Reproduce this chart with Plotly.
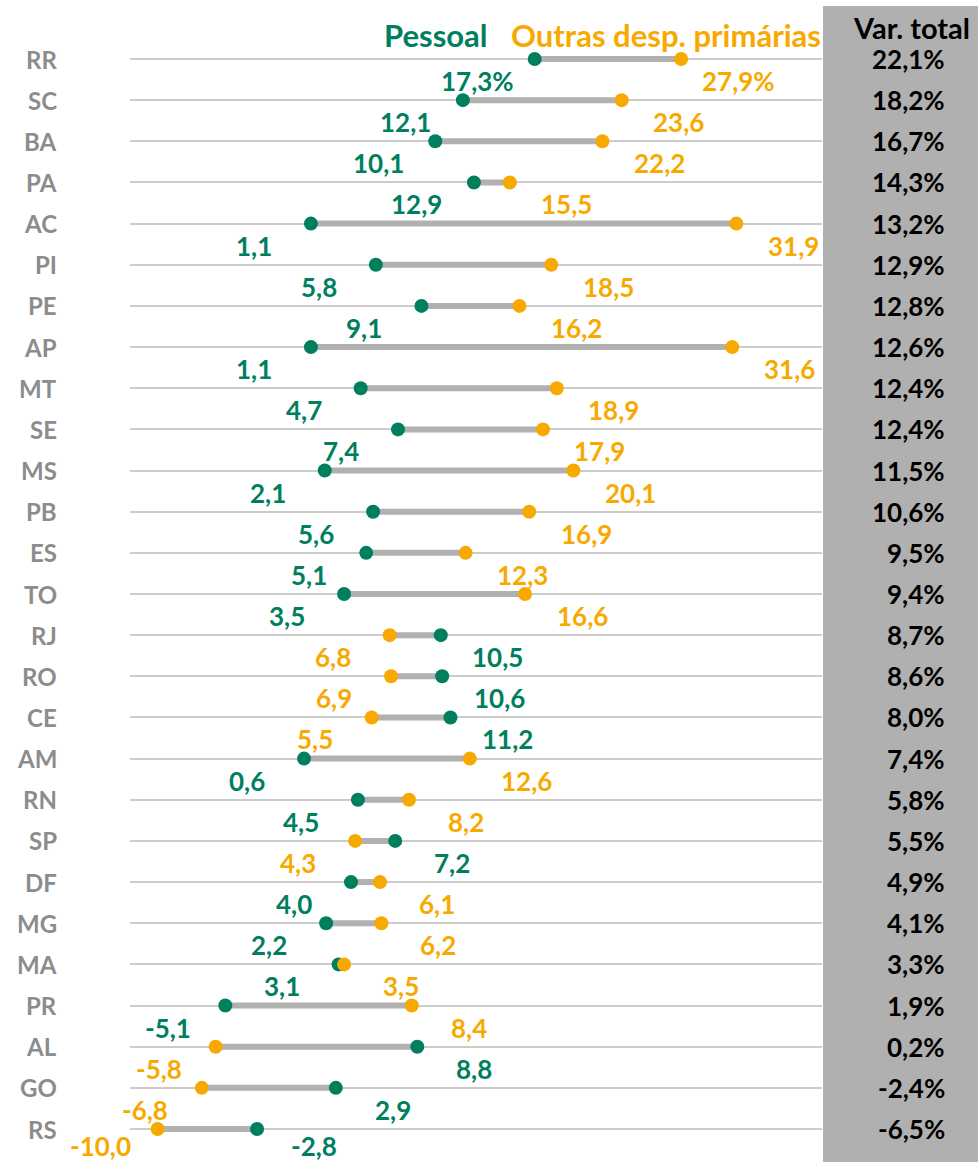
import plotly.graph_objects as go

states = ["RR","SC","BA","PA","AC","PI","PE","AP","MT","SE","MS","PB","ES","TO",
          "RJ","RO","CE","AM","RN","SP","DF","MG","MA","PR","AL","GO","RS"]
pessoal = [17.3,12.1,10.1,12.9,1.1,5.8,9.1,1.1,4.7,7.4,2.1,5.6,5.1,3.5,
           10.5,10.6,11.2,0.6,4.5,7.2,4.0,2.2,3.1,-5.1,8.8,2.9,-2.8]
outras = [27.9,23.6,22.2,15.5,31.9,18.5,16.2,31.6,18.9,17.9,20.1,16.9,12.3,16.6,
          6.8,6.9,5.5,12.6,8.2,4.3,6.1,6.2,3.5,8.4,-5.8,-6.8,-10.0]
var_total = [22.1,18.2,16.7,14.3,13.2,12.9,12.8,12.6,12.4,12.4,11.5,10.6,9.5,9.4,
             8.7,8.6,8.0,7.4,5.8,5.5,4.9,4.1,3.3,1.9,0.2,-2.4,-6.5]

GREEN = "#007F5F"
ORANGE = "#F7A900"
GRAYLINE = "#B1B1B1"
FONT = "Lato"
W, H = 978, 1162

def fmt(v, pct=False):
    s = f"{v:.1f}".replace(".", ",")
    return s + ("%" if pct else "")

n = len(states)
ys = list(range(n))

fig = go.Figure()

# connecting lines
lx, ly = [], []
for i in range(n):
    lx += [pessoal[i], outras[i], None]
    ly += [i, i, None]
fig.add_trace(go.Scatter(x=lx, y=ly, mode="lines",
                         line=dict(color=GRAYLINE, width=6),
                         hoverinfo="skip", showlegend=False))
fig.add_trace(go.Scatter(x=pessoal, y=ys, mode="markers",
                         marker=dict(color=GREEN, size=14), name="Pessoal",
                         showlegend=False))
fig.add_trace(go.Scatter(x=outras, y=ys, mode="markers",
                         marker=dict(color=ORANGE, size=14),
                         name="Outras desp. primárias", showlegend=False))

ann = []
for i in range(n):
    pct = (i == 0)
    p, o = pessoal[i], outras[i]
    ysh = -22 if i < n - 1 else -17
    for v, col, other in [(p, GREEN, o), (o, ORANGE, p)]:
        shift = -57 if v < other or (v == other and col == GREEN) else 57
        ann.append(dict(x=v, y=i, xref="x", yref="y", text=f"<b>{fmt(v, pct)}</b>",
                        showarrow=False, xanchor="center", yanchor="middle",
                        xshift=shift, yshift=ysh,
                        font=dict(family=FONT, size=26, color=col)))
    # state label
    ann.append(dict(x=59 / W, y=i, xref="paper", yref="y", text=f"<b>{states[i]}</b>",
                    showarrow=False, xanchor="right", yanchor="middle",
                    font=dict(family=FONT, size=24, color="#8C8C8C")))
    # var total
    ann.append(dict(x=947 / W, y=i, xref="paper", yref="y",
                    text=f"<b>{fmt(var_total[i], True)}</b>",
                    showarrow=False, xanchor="right", yanchor="middle",
                    font=dict(family=FONT, size=26, color="#000000")))

# headers
ann.append(dict(x=490 / W, y=1 - 35 / H, xref="paper", yref="paper",
                text="<b>Pessoal</b>", showarrow=False, xanchor="right", yanchor="middle",
                font=dict(family=FONT, size=31, color=GREEN)))
ann.append(dict(x=823 / W, y=1 - 35 / H, xref="paper", yref="paper",
                text="<b>Outras desp. primárias</b>", showarrow=False,
                xanchor="right", yanchor="middle",
                font=dict(family=FONT, size=31, color=ORANGE)))
ann.append(dict(x=911 / W, y=1 - 27 / H, xref="paper", yref="paper",
                text="<b>Var. total</b>", showarrow=False, xanchor="center",
                yanchor="middle", font=dict(family=FONT, size=29, color="#000000")))

row0, step = 59, (1129 - 59) / 26
y_top = -row0 / step
y_bot = (H - row0) / step

fig.update_layout(
    width=W, height=H,
    margin=dict(l=0, r=0, t=0, b=0),
    paper_bgcolor="white", plot_bgcolor="white",
    xaxis=dict(domain=[130 / W, 822 / W], range=[-12.0, 38.1],
               showgrid=False, zeroline=False, showticklabels=False, fixedrange=True),
    yaxis=dict(domain=[0, 1], range=[y_bot, y_top], tickvals=ys,
               showgrid=True, gridcolor="#CCCCCC", gridwidth=1.5,
               zeroline=False, showticklabels=False, fixedrange=True),
    shapes=[dict(type="rect", xref="paper", yref="paper",
                 x0=823 / W, x1=1, y0=0, y1=1 - 6 / H,
                 fillcolor="#B0B0B0", line=dict(width=0), layer="below")],
    annotations=ann,
    showlegend=False,
)

fig.write_html("out.html", config={"displayModeBar": False},
               post_script="document.body.style.margin='0';document.body.style.overflow='hidden';")
